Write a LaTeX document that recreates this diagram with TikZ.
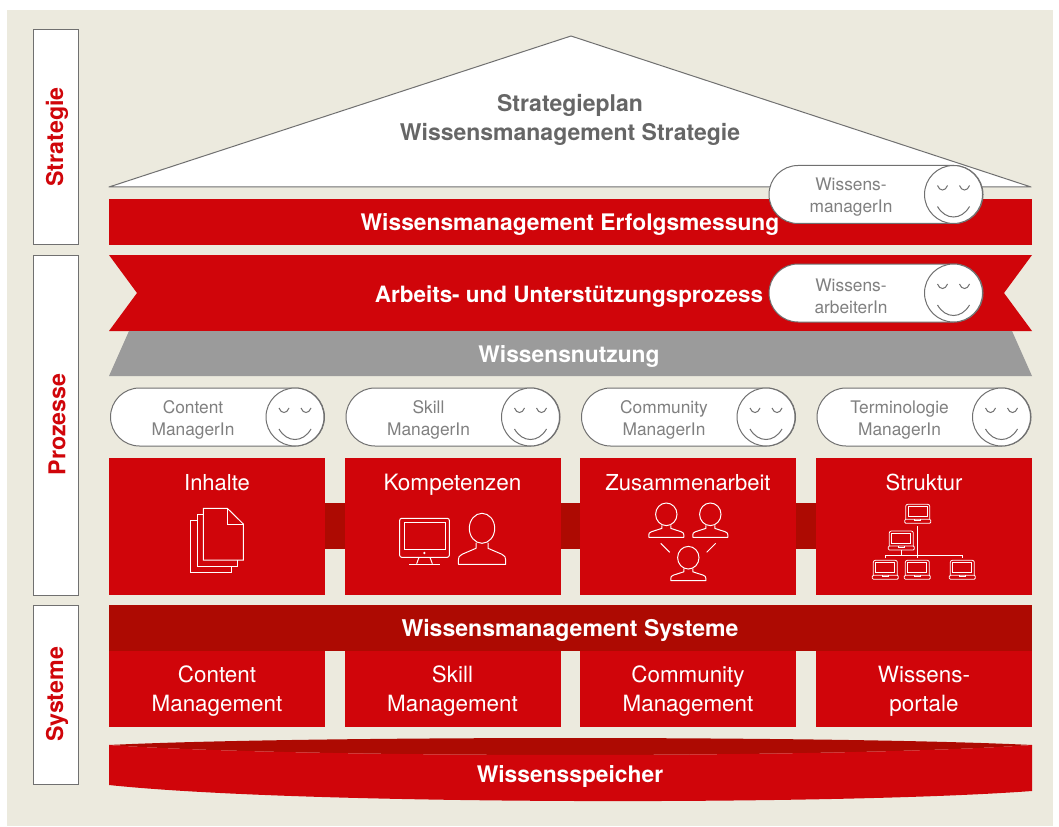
\documentclass[tikz,border=0pt]{standalone}
\usepackage{fontspec}
\setmainfont{TeX Gyre Heros}
\definecolor{wred}{HTML}{D0050A}
\definecolor{wdark}{HTML}{AD0A02}
\definecolor{wbg}{HTML}{ECEADE}
\definecolor{wgrey}{HTML}{9B9B9B}
\definecolor{wline}{HTML}{707070}
\definecolor{wtext}{HTML}{666666}
\definecolor{wpill}{HTML}{808080}
\newcommand{\wsmile}[2]{%
  \begin{scope}[shift={(#1,#2)}]
    \draw[wline,fill=white,line width=.75pt] (0,0) circle[radius=29];
    \draw[wline,line width=.75pt] (-16,-9) .. controls (-14,-3) and (-8,-3) .. (-6,-9);
    \draw[wline,line width=.75pt] (6,-9) .. controls (8,-3) and (14,-3) .. (16,-9);
    \draw[wline,line width=.75pt] (-16,12) .. controls (-8,26) and (8,26) .. (16,12);
  \end{scope}}
\newcommand{\wpillbox}[6]{% name, left x, y top, line1, line2, text cx
  \node[pillbox] (#1) at (#2+107,#3+29) {};
  \node[pilltext] (#1t) at (#6,#3+32) {#4\\#5};
  \wsmile{#2+184.5}{#3+29}}
\newcommand{\wperson}[5]{% x,y head centre, rx, ry, scale x/y of body
  \begin{scope}[shift={(#1,#2)}]
    \draw[icon] (0,0) ellipse[x radius=#3,y radius=#4];
    \begin{scope}[shift={(0,#4)},xscale=#5,yscale=#5*\wbody]
      \draw[icon,line join=round] (-6,-.5) -- (-6,5) -- (-20,11) .. controls (-23,12.5) and (-23.7,14) .. (-23.7,17) -- (-23.7,21) -- (23.7,21) -- (23.7,17) .. controls (23.7,14) and (23,12.5) .. (20,11) -- (6,5) -- (6,-.5);
    \end{scope}
  \end{scope}}
\newcommand{\wlaptop}[2]{%
  \begin{scope}[shift={(#1,#2)}]
    \draw[icon,line width=.6pt,rounded corners=1.5] (-12,0) -- (-12,-15) -- (12,-15) -- (12,0);
    \draw[icon,line width=.5pt] (-9.5,-2.5) rectangle (9.5,-12.5);
    \draw[icon,line width=.6pt,rounded corners=.8] (-13,0) rectangle (13,4);
    \draw[icon,line width=.5pt] (-3,0) -- (-3,1.5) -- (3,1.5) -- (3,0);
  \end{scope}}
\newcommand{\wbody}{1}
\tikzset{
  x=.75pt,y=-.75pt,
  pillbox/.style={draw=wline,fill=white,line width=.75pt,minimum width=160.5pt,minimum height=43.5pt,rounded corners=21.75pt,inner sep=0pt},
  pilltext/.style={text=wpill,align=center,font=\fontsize{13}{16.5}\selectfont,inner sep=0pt},
  boldwhite/.style={text=white,font=\fontsize{17.1}{21}\selectfont\bfseries,inner sep=0pt,anchor=base},
  bigwhite/.style={text=white,font=\fontsize{16.5}{21.75}\selectfont,inner sep=0pt,anchor=base},
  lowwhite/.style={text=white,align=center,font=\fontsize{16.8}{21.75}\selectfont,inner sep=0pt},
  sidebox/.style={draw=wline,fill=white,line width=.75pt,minimum width=33.75pt,inner sep=0pt},
  sidetext/.style={text=wred,rotate=90,font=\fontsize{17.4}{20}\selectfont\bfseries,inner sep=0pt},
  icon/.style={draw=white,line width=.75pt},
}
\begin{document}
\begin{tikzpicture}
\useasboundingbox (0,0) rectangle (1059,827);
\fill[wbg] (7,10) rectangle (1053,826);
% side labels
\draw[sidebox] (33,30) rectangle (78,245);
\draw[sidebox] (33,255) rectangle (78,595);
\draw[sidebox] (33,605) rectangle (78,784);
\node[sidetext] (s1) at (57,137) {Strategie};
\node[sidetext] (s2) at (57,424.5) {Prozesse};
\node[sidetext] (s3) at (57,694.5) {Systeme};
% roof
\draw[wline,fill=white,line width=.75pt,line join=round] (109,187) -- (571,36) -- (1031,187) -- cycle;
\node[text=wtext,align=center,font=\fontsize{17.25}{21.75}\selectfont\bfseries,inner sep=0pt] (roof) at (570,120) {Strategieplan\\Wissensmanagement Strategie};
% bars
\fill[wred] (109,199) rectangle (1032,245);
\node[boldwhite] (erfolg) at (570,230.5) {Wissensmanagement Erfolgsmessung};
\fill[wred] (109,255) -- (1032,255) -- (1004,293) -- (1032,331) -- (109,331) -- (137,293) -- cycle;
\node[boldwhite,font=\fontsize{16.85}{21}\selectfont\bfseries] (arbeit) at (569,302) {Arbeits- und Unterstützungsprozess};
\fill[wgrey] (129,331) -- (1012,331) -- (1032,376) -- (109,376) -- cycle;
\node[boldwhite] (nutzung) at (569,362.5) {Wissensnutzung};
% upper pills
\wpillbox{pa}{769}{165.5}{Wissens-}{managerIn}{851}
\wpillbox{pb}{769}{264}{Wissens-}{arbeiterIn}{851}
% role pills
\wpillbox{pc}{110.5}{388}{Content}{ManagerIn}{193}
\wpillbox{pd}{346}{388}{Skill}{ManagerIn}{428.5}
\wpillbox{pe}{581.5}{388}{Community}{ManagerIn}{664}
\wpillbox{pf}{817}{388}{Terminologie}{ManagerIn}{899.5}
% connector bars
\fill[wdark] (325,503) rectangle (345,549);
\fill[wdark] (561,503) rectangle (580,549);
\fill[wdark] (796,503) rectangle (816,549);
% boxes
\fill[wred] (109,458) rectangle (325,595);
\fill[wred] (345,458) rectangle (561,595);
\fill[wred] (580,458) rectangle (796,595);
\fill[wred] (816,458) rectangle (1032,595);
\node[bigwhite] (b1) at (217,490) {Inhalte};
\node[bigwhite,font=\fontsize{16.9}{21.75}\selectfont] (b2) at (452.5,490) {Kompetenzen};
\node[bigwhite] (b3) at (688,490) {Zusammenarbeit};
\node[bigwhite] (b4) at (924,490) {Struktur};
% documents
\draw[icon,line join=miter] (203.3,508.3) -- (227.3,508.3) -- (243.3,524) -- (243.3,560) -- (203.3,560) -- cycle;
\draw[icon] (227.3,508.3) -- (227.3,524) -- (243.3,524);
\draw[icon] (203.3,514.5) -- (197,514.5) -- (197,566.5) -- (237,566.5) -- (237,560);
\draw[icon] (197,520.5) -- (190.7,520.5) -- (190.7,572.7) -- (231,572.7) -- (231,566.5);
% monitor
\draw[icon,rounded corners=1.5] (399.7,518.3) rectangle (449.3,557.3);
\draw[icon] (404,522.7) rectangle (445.3,549);
\fill[white] (424.3,553) circle[radius=1.3];
\draw[icon] (419,557.3) -- (416.7,563.7);
\draw[icon] (430,557.3) -- (432.3,563.7);
\draw[icon] (409,564) -- (440,564);
\wperson{482}{528.3}{12.7}{15}{1}
% people
\renewcommand{\wbody}{.75}
\wperson{666.3}{514.3}{10.7}{11.3}{.74}
\wperson{710.3}{514.3}{10.7}{11.3}{.74}
\wperson{688.3}{557.7}{10.7}{11.3}{.74}
\draw[icon] (660.7,543.3) -- (669.7,552.3);
\draw[icon] (715.7,543.3) -- (706.7,552.3);
% network
\draw[icon] (917.3,526) -- (917.3,558.3);
\draw[icon] (885.3,558.3) -- (885.3,555.7) -- (962.7,555.7) -- (962.7,558.3);
\draw[icon] (901.3,550) -- (901.3,555.7);
\wlaptop{917.7}{519.3}
\wlaptop{901.3}{546}
\wlaptop{885.3}{575.3}
\wlaptop{917.3}{575.3}
\wlaptop{962.3}{575.3}
% systems
\fill[wdark] (109,605) rectangle (1032,651);
\node[boldwhite,font=\fontsize{17.3}{21}\selectfont\bfseries] (sys) at (570,636.5) {Wissensmanagement Systeme};
\fill[wred] (109,651) rectangle (325,727);
\fill[wred] (345,651) rectangle (561,727);
\fill[wred] (580,651) rectangle (796,727);
\fill[wred] (816,651) rectangle (1032,727);
\node[lowwhite] (c1) at (217,691) {Content\\Management};
\node[lowwhite] (c2) at (452.5,691) {Skill\\Management};
\node[lowwhite] (c3) at (688,691) {Community\\Management};
\node[lowwhite] (c4) at (924,691) {Wissens-\\portale};
% storage
\fill[wdark] (109,745) .. controls (300,735.7) and (840,735.7) .. (1032,745) .. controls (840,758.3) and (300,758.3) .. (109,745) -- cycle;
\fill[wred] (109,745) .. controls (300,758.3) and (840,758.3) .. (1032,745) -- (1032,791) .. controls (840,805.3) and (300,805.3) .. (109,785) -- cycle;
\node[boldwhite] (speicher) at (570,782) {Wissensspeicher};
\end{tikzpicture}
\end{document}
